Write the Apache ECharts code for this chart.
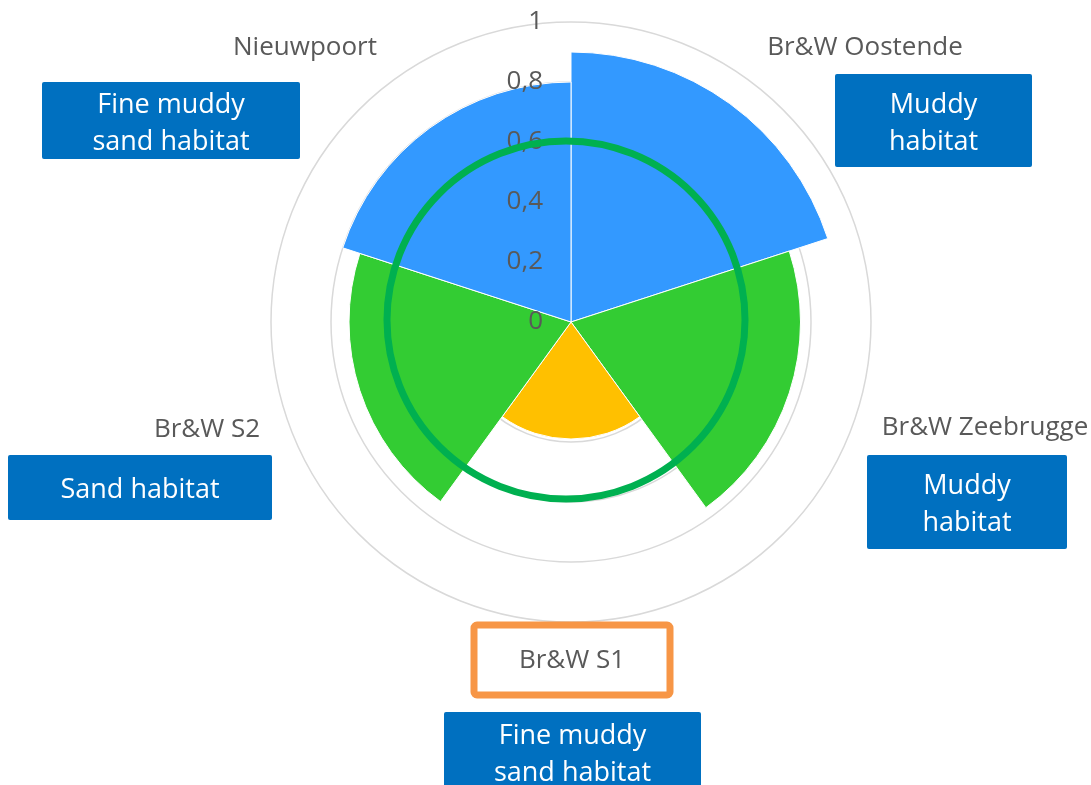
<!DOCTYPE html>
<html>
<head>
<meta charset="utf-8">
<script src="https://cdn.jsdelivr.net/npm/echarts@6/dist/echarts.min.js"></script>
<style>
  body { margin: 0; background: #fff; }
  #chart { width: 1091px; height: 785px; }
</style>
</head>
<body>
<div id="chart"></div>
<script>
// sectors, clockwise from 12 o'clock
const categories = ['Br&W Oostende', 'Br&W Zeebrugge', 'Br&W S1', 'Br&W S2', 'Nieuwpoort']
const values = [0.9, 0.765, 0.39, 0.74, 0.8]
const habitats = ['Muddy\nhabitat', 'Muddy\nhabitat', 'Fine muddy\nsand habitat', 'Sand habitat', 'Fine muddy\nsand habitat']
const radiusTicks = [0, 0.2, 0.4, 0.6, 0.8, 1]
const targetLevel = 0.6

const sectorColors = ['#3399ff', '#33cc33', '#ffc000', '#33cc33', '#3399ff']
const textGrey = '#595959'
const font = 'Open Sans'

// where the label and the habitat box of each sector sit
const labelPos = [[865, 48], [985, 428], [572, 661], [207, 430], [305, 48]]
const boxRect = [
  [835, 74, 197, 93],
  [867, 455, 200, 94],
  [444, 712, 257, 80],
  [8, 455, 264, 65],
  [42, 82, 258, 77]
]

const chart = echarts.init(document.getElementById('chart'))

const polarBase = { center: [571, 322], radius: 300 }

chart.setOption({
  animation: false,
  polar: [polarBase, polarBase],
  angleAxis: [
    {
      polarIndex: 0,
      type: 'category',
      data: categories,
      startAngle: 90,
      clockwise: true,
      axisLine: { show: false },
      axisTick: { show: false },
      axisLabel: { show: false },
      splitLine: { show: false }
    },
    {
      polarIndex: 1,
      type: 'category',
      data: categories,
      startAngle: 90,
      axisLine: { show: false },
      axisTick: { show: false },
      axisLabel: { show: false },
      splitLine: { show: false }
    }
  ],
  radiusAxis: [
    {
      polarIndex: 0,
      min: radiusTicks[0],
      max: radiusTicks[radiusTicks.length - 1],
      interval: 0.2,
      axisLine: { show: false },
      axisTick: { show: false },
      axisLabel: { show: false },
      splitLine: { show: true, lineStyle: { color: '#d9d9d9', width: 1.5 } }
    },
    {
      // only the tick labels, drawn above the sectors
      polarIndex: 1,
      z: 10,
      min: radiusTicks[0],
      max: radiusTicks[radiusTicks.length - 1],
      interval: 0.2,
      axisLine: { show: false },
      axisTick: { show: false },
      splitLine: { show: false },
      axisLabel: {
        color: textGrey,
        fontSize: 26,
        fontFamily: font,
        margin: 28,
        formatter: v => String(Math.round(v * 10) / 10).replace('.', ',')
      }
    }
  ],
  series: [
    {
      type: 'bar',
      coordinateSystem: 'polar',
      polarIndex: 0,
      barCategoryGap: '0%',
      itemStyle: { borderColor: '#fff', borderWidth: 1 },
      data: values.map((v, i) => ({ value: v, itemStyle: { color: sectorColors[i] } }))
    }
  ]
})

// labels, habitat boxes and the green target circle
const graphics = []
categories.forEach((name, i) => {
  const [bx, by, bw, bh] = boxRect[i]
  graphics.push({
    type: 'rect',
    z: 20,
    shape: { x: bx, y: by, width: bw, height: bh, r: 2 },
    style: { fill: '#0070c0' }
  })
  graphics.push({
    type: 'text',
    z: 21,
    x: bx + bw / 2,
    y: by + bh / 2 + 3,
    style: {
      text: habitats[i],
      fill: '#fff',
      font: '27px "' + font + '"',
      lineHeight: 37,
      align: 'center',
      verticalAlign: 'middle'
    }
  })
  graphics.push({
    type: 'text',
    z: 21,
    x: labelPos[i][0],
    y: labelPos[i][1],
    style: {
      text: name,
      fill: textGrey,
      font: '26px "' + font + '"',
      align: 'center',
      verticalAlign: 'middle'
    }
  })
})

// orange frame round the S1 label
graphics.push({
  type: 'rect',
  z: 20,
  shape: { x: 474, y: 625, width: 196, height: 70, r: 3 },
  style: { fill: 'none', stroke: '#f79646', lineWidth: 7 }
})

const c = chart.convertToPixel({ polarIndex: 0 }, [0, 0])
const p = chart.convertToPixel({ polarIndex: 0 }, [targetLevel, 0])
const r = Math.hypot(p[0] - c[0], p[1] - c[1])
graphics.push({
  type: 'circle',
  z: 30,
  shape: { cx: c[0] - 5, cy: c[1] - 2, r: r - 1 },
  style: { fill: 'none', stroke: '#00b050', lineWidth: 7 }
})

chart.setOption({ graphic: graphics })

window.addEventListener('resize', () => {
  chart.resize()
})
</script>
</body>
</html>
